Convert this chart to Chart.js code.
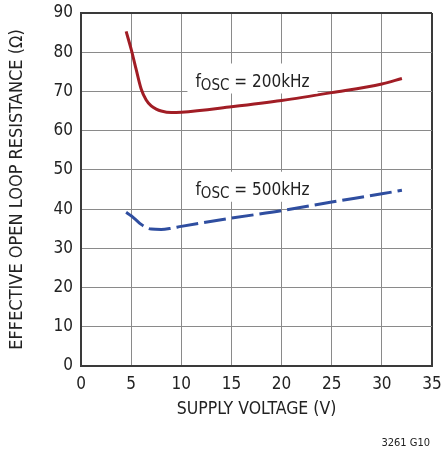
<!DOCTYPE html>
<html>
<head>
<meta charset="utf-8">
<script src="https://cdn.jsdelivr.net/npm/chart.js@4"></script>
<style>
  html, body { margin: 0; padding: 0; background: #fff; }
  #wrap { width: 442px; height: 452px; }
</style>
</head>
<body>
<div id="wrap"><canvas id="c"></canvas></div>
<script>
// f_OSC = 200kHz curve
const v200 = [4.5, 5, 5.5, 6, 6.5, 7, 7.5, 8, 9, 10, 15, 20, 25, 30, 32];
const r200 = [85.3, 80.8, 75.6, 70.6, 67.8, 66.3, 65.5, 65, 64.6, 64.7, 66.1, 67.7, 69.7, 71.9, 73.3];

// f_OSC = 500kHz curve
const v500 = [4.5, 5, 5.5, 6, 6.5, 7, 8, 9, 10, 15, 20, 25, 30, 32];
const r500 = [39.2, 38.3, 37.2, 36.1, 35.3, 34.9, 34.8, 35.1, 35.6, 37.7, 39.6, 41.8, 43.9, 44.8];

// curve labels (centre of the white box, in data units)
const curveLabels = [
  { x: 17.1, y: 73.3, sub: "OSC", rest: " = 200kHz" },
  { x: 17.1, y: 45.7, sub: "OSC", rest: " = 500kHz" },
];

const FONT = "'Liberation Sans Narrow', 'DejaVu Sans Condensed', sans-serif";

function toPoints(xs, ys) {
  return xs.map((x, i) => ({ x, y: ys[i] }));
}

const labelPlugin = {
  id: "curveLabels",
  afterDatasetsDraw(chart) {
    const { ctx, scales } = chart;
    ctx.save();
    for (const lab of curveLabels) {
      const cx = scales.x.getPixelForValue(lab.x);
      const cy = scales.y.getPixelForValue(lab.y);
      ctx.font = "17px " + FONT;
      const wF = ctx.measureText("f").width;
      const wRest = ctx.measureText(lab.rest).width;
      ctx.font = "15px " + FONT;
      const wSub = ctx.measureText(lab.sub).width;
      const total = wF + wSub + wRest;
      ctx.fillStyle = "#fff";
      ctx.fillRect(cx - total / 2 - 8, cy - 15, total + 16, 30);
      let x = cx - total / 2;
      ctx.fillStyle = "#222";
      ctx.textBaseline = "alphabetic";
      ctx.textAlign = "left";
      ctx.font = "17px " + FONT;
      ctx.fillText("f", x, cy + 8);
      x += wF;
      ctx.font = "15px " + FONT;
      ctx.fillText(lab.sub, x, cy + 11.5);
      x += wSub;
      ctx.font = "17px " + FONT;
      ctx.fillText(lab.rest, x, cy + 8);
    }
    // figure code
    ctx.font = "11px " + FONT;
    ctx.textAlign = "right";
    ctx.textBaseline = "middle";
    ctx.fillStyle = "#222";
    ctx.fillText("3261 G10", 430, 443);
    ctx.restore();
  },
};

const edgeColor = "#3a3a3a";
const gridColor = "#8a8a8a";

new Chart(document.getElementById("c"), {
  type: "line",
  data: {
    datasets: [
      {
        data: toPoints(v200, r200),
        borderColor: "#a11d25",
        borderWidth: 3,
        pointRadius: 0,
        cubicInterpolationMode: "monotone",
      },
      {
        data: toPoints(v500, r500),
        borderColor: "#2f4ea0",
        borderWidth: 3,
        borderDash: [22, 6],
        pointRadius: 0,
        cubicInterpolationMode: "monotone",
      },
    ],
  },
  options: {
    responsive: true,
    maintainAspectRatio: false,
    animation: false,
    layout: { padding: { top: 13, right: 10, left: 0, bottom: 0 } },
    plugins: { legend: { display: false }, tooltip: { enabled: false } },
    scales: {
      x: {
        type: "linear",
        min: 0,
        max: 35,
        afterFit(s) {
          s.height = 86;
          s.paddingLeft = 0;
          s.paddingRight = 0;
        },
        ticks: { stepSize: 5, padding: 8, color: "#222", font: { family: FONT, size: 17 } },
        grid: {
          drawTicks: false,
          color: (c) => (c.tick && c.tick.value === 35 ? edgeColor : gridColor),
          lineWidth: (c) => (c.tick && c.tick.value === 35 ? 2 : 1),
        },
        border: { color: edgeColor, width: 2 },
        title: {
          display: true,
          text: "SUPPLY VOLTAGE (V)",
          color: "#222",
          font: { family: FONT, size: 17.5 },
          padding: { top: 0, bottom: 32.5 },
        },
      },
      y: {
        min: 0,
        max: 90,
        afterFit(s) {
          s.width = 81;
          s.paddingTop = 0;
          s.paddingBottom = 0;
        },
        ticks: { stepSize: 10, padding: 8, color: "#222", font: { family: FONT, size: 17 } },
        grid: {
          drawTicks: false,
          color: (c) => (c.tick && c.tick.value === 90 ? edgeColor : gridColor),
          lineWidth: (c) => (c.tick && c.tick.value === 90 ? 2 : 1),
        },
        border: { color: edgeColor, width: 2 },
        title: {
          display: true,
          text: "EFFECTIVE OPEN LOOP RESISTANCE (Ω)",
          color: "#222",
          font: { family: FONT, size: 18 },
          padding: { top: 6.5, bottom: 0 },
        },
      },
    },
  },
  plugins: [labelPlugin],
});
</script>
</body>
</html>
